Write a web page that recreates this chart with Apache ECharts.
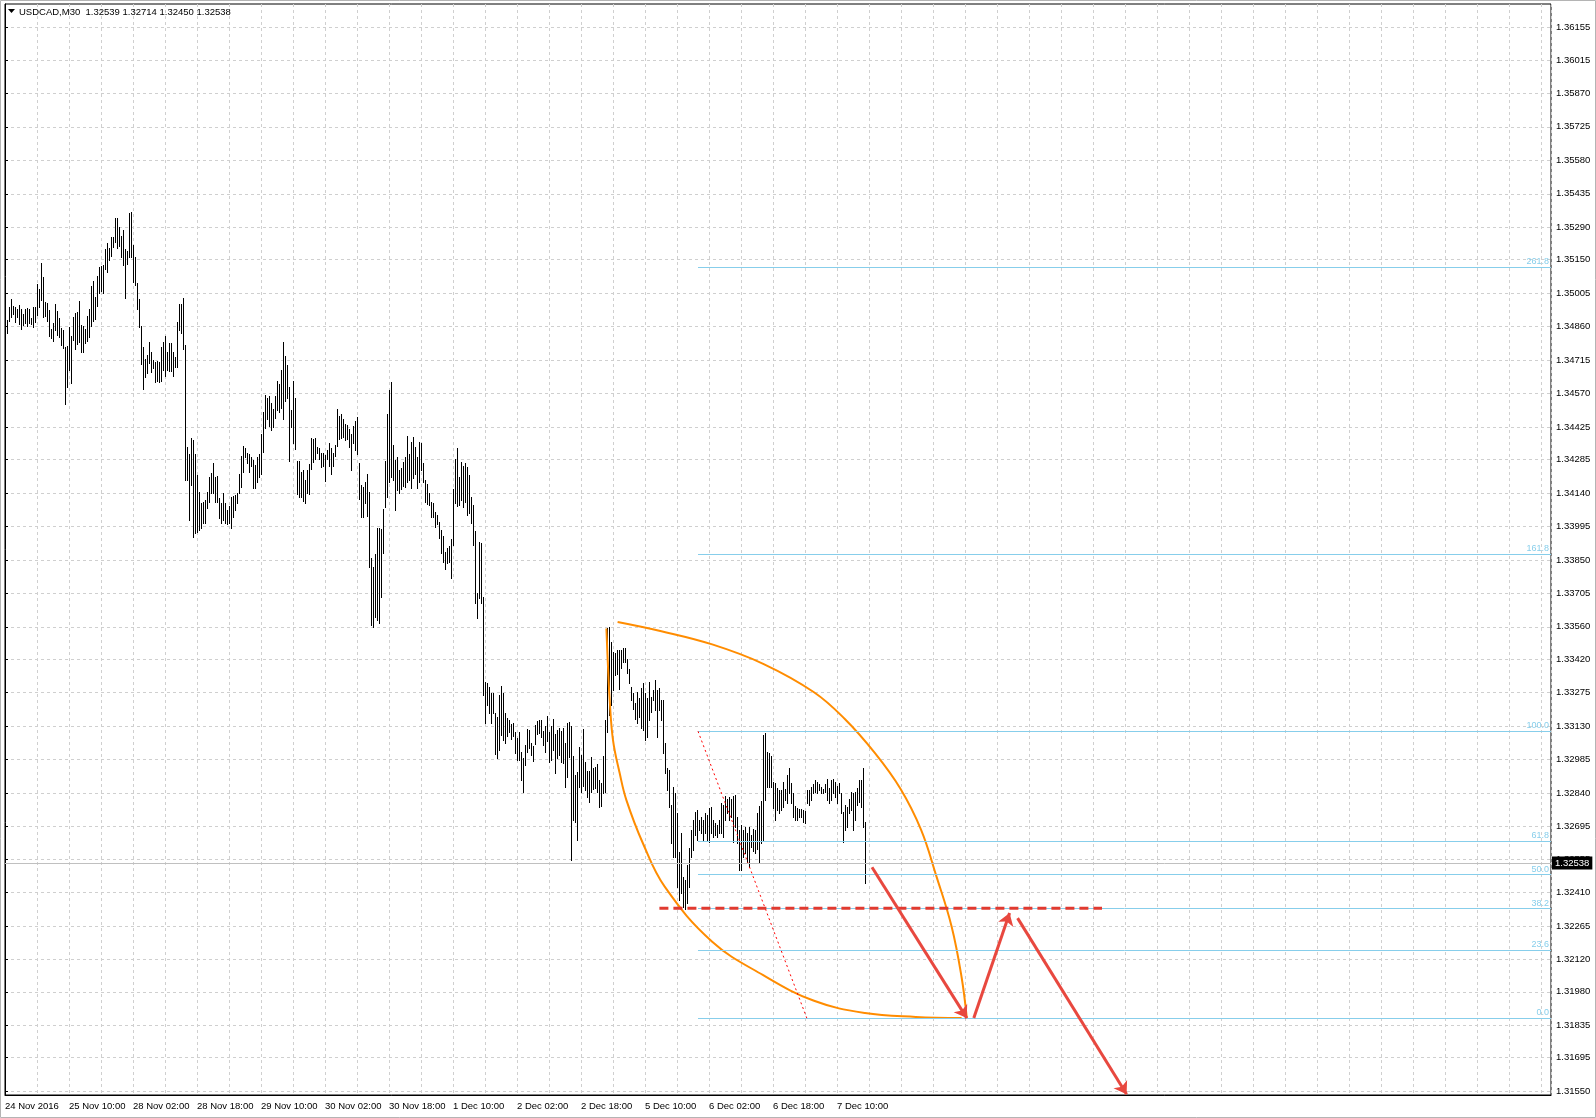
<!DOCTYPE html>
<html><head><meta charset="utf-8">
<script src="https://cdn.jsdelivr.net/npm/echarts@6/dist/echarts.min.js"></script>
<style>html,body{margin:0;padding:0;background:#fff;}#c{width:1596px;height:1118px;}</style>
</head><body><div id="c"></div>
<script>
const symbolName = 'USDCAD,M30';
const lastOHLC = [1.32539, 1.32714, 1.32450, 1.32538];
const timeLabels = ['24 Nov 2016','25 Nov 10:00','28 Nov 02:00','28 Nov 18:00','29 Nov 10:00','30 Nov 02:00','30 Nov 18:00','1 Dec 10:00','2 Dec 02:00','2 Dec 18:00','5 Dec 10:00','6 Dec 02:00','6 Dec 18:00','7 Dec 10:00'];
const priceTicks = [1.36155,1.36015,1.35870,1.35725,1.35580,1.35435,1.35290,1.35150,1.35005,1.34860,1.34715,1.34570,1.34425,1.34285,1.34140,1.33995,1.33850,1.33705,1.33560,1.33420,1.33275,1.33130,1.32985,1.32840,1.32695,1.32555,1.32410,1.32265,1.32120,1.31980,1.31835,1.31695,1.31550];

const highs = [
1.34910,1.34889,1.34943,1.34978,1.34949,1.34943,1.34935,1.34952,1.34935,1.34915,
1.34935,1.34939,1.34935,1.34896,1.34943,1.34943,1.35044,1.35021,1.35137,1.35073,
1.34966,1.34964,1.34932,1.34848,1.34877,1.34958,1.34929,1.34896,1.34852,1.34845,
1.34773,1.34776,1.34857,1.34819,1.34903,1.34920,1.34925,1.34972,1.34867,1.34863,
1.34848,1.34906,1.34935,1.35036,1.35059,1.34990,1.35079,1.35119,1.35122,1.35125,
1.35194,1.35220,1.35199,1.35246,1.35249,1.35329,1.35329,1.35293,1.35252,1.35278,
1.35194,1.35189,1.35353,1.35357,1.35213,1.35160,1.35047,1.34978,1.34863,1.34773,
1.34718,1.34737,1.34795,1.34751,1.34715,1.34708,1.34712,1.34708,1.34773,1.34795,
1.34819,1.34751,1.34788,1.34788,1.34751,1.34727,1.34881,1.34958,1.34958,1.34982,
1.34780,1.34340,1.34308,1.34376,1.34369,1.34308,1.34218,1.34145,1.34098,1.34102,
1.34109,1.34145,1.34208,1.34225,1.34271,1.34210,
1.34213,1.34116,1.34098,1.34141,1.34095,1.34066,1.34083,1.34121,1.34126,1.34131,
1.34138,1.34224,1.34300,1.34343,1.34333,1.34314,1.34308,1.34297,1.34282,1.34261,
1.34294,1.34308,1.34395,1.34491,1.34564,1.34553,1.34559,1.34528,1.34502,1.34559,
1.34626,1.34611,1.34672,1.34793,1.34732,1.34693,1.34600,1.34499,1.34626,1.34549,
1.34279,1.34279,1.34232,1.34239,1.34198,1.34239,1.34265,1.34376,1.34372,1.34376,
1.34337,1.34333,1.34311,1.34311,1.34304,1.34326,1.34354,1.34333,1.34314,1.34347,
1.34502,1.34473,1.34481,1.34458,1.34438,1.34434,1.34415,1.34395,1.34429,1.34452,
1.34467,1.34268,1.34174,1.34167,1.34188,1.34224,1.34145,1.33860,1.33818,1.33875,
1.33986,1.33986,1.33982,1.34069,1.34279,1.34481,1.34585,1.34621,1.34347,1.34282,
1.34297,1.34239,1.34250,1.34275,1.34294,1.34386,1.34308,1.34362,1.34380,1.34340,
1.34294,1.34362,1.34354,1.34268,1.34198,1.34178,1.34138,1.34102,
1.34095,1.34058,1.34044,1.34015,1.33979,1.33953,1.33885,1.33900,1.33910,1.33939,
1.34155,1.34285,1.34333,1.34210,1.34275,1.34256,1.34271,1.34253,1.34217,1.34123,
1.34087,1.33976,1.33705,1.33929,1.33921,1.33691,1.33323,1.33318,1.33301,1.33272,
1.33272,1.33188,1.33171,1.33265,1.33304,1.33272,1.33188,1.33164,1.33157,1.33139,
1.33142,1.33106,1.33077,1.33106,1.33019,1.32991,1.33048,1.33116,1.33113,1.33056,
1.33044,1.33135,1.33154,1.33157,1.33157,1.33110,1.33131,1.33174,1.33106,1.33131,
1.33159,1.33096,1.33113,1.33121,1.33110,1.33121,1.33056,1.33142,1.33149,1.33131,
1.33001,1.32919,1.32933,1.33041,1.33005,1.33116,1.32976,1.32937,1.32937,1.32995,
1.32947,1.32955,1.32966,1.32897,1.32885,1.33001,1.33157,1.33553,1.33558,1.33496,
1.33452,1.33445,1.33462,1.33460,1.33462,1.33467,1.33467,1.33419,1.33376,1.33301,
1.33272,1.33229,1.33279,1.33250,1.33294,1.33315,1.33272,
1.33250,1.33322,1.33258,1.33286,1.33330,1.33286,1.33294,1.33243,1.33243,
1.33056,1.32947,1.32940,1.32789,1.32868,1.32839,1.32752,1.32587,1.32666,1.32478,
1.32464,1.32529,1.32601,1.32680,1.32724,1.32760,1.32767,1.32724,1.32738,1.32724,
1.32752,1.32745,1.32774,1.32781,1.32724,1.32709,1.32702,1.32724,1.32796,1.32789,
1.32828,1.32813,1.32825,1.32813,1.32828,1.32832,1.32738,1.32680,1.32702,1.32680,
1.32692,1.32666,1.32695,1.32659,1.32683,1.32680,1.32752,1.32784,1.32807,1.33092,
1.33099,1.33019,1.33012,1.33001,1.32890,1.32882,1.32861,1.32853,1.32853,1.32890,
1.32856,1.32918,1.32947,1.32882,1.32839,1.32784,1.32774,1.32770,1.32770,1.32767,
1.32764,1.32853,1.32853,1.32865,1.32879,1.32897,1.32890,1.32879,1.32865,1.32856,
1.32879,1.32900,1.32861,1.32897,1.32900,1.32890,1.32871,1.32885,1.32839,1.32760,
1.32789,1.32781,1.32813,1.32846,1.32842,1.32846,1.32861,1.32897,1.32897,1.32947,
1.32714];

const lows = [
1.34816,1.34831,1.34886,1.34900,1.34915,1.34881,1.34903,1.34871,1.34848,1.34867,
1.34877,1.34863,1.34874,1.34871,1.34860,1.34881,1.34910,1.34943,1.34975,1.34900,
1.34906,1.34886,1.34819,1.34809,1.34799,1.34845,1.34824,1.34816,1.34780,1.34766,
1.34525,1.34597,1.34672,1.34614,1.34802,1.34762,1.34785,1.34795,1.34751,1.34751,
1.34790,1.34799,1.34813,1.34863,1.34886,1.34891,1.34949,1.35007,1.35016,1.35004,
1.35108,1.35098,1.35148,1.35166,1.35203,1.35228,1.35199,1.35209,1.35163,1.35127,
1.34982,1.35131,1.35163,1.35160,1.35054,1.35040,1.34935,1.34860,1.34698,1.34588,
1.34640,1.34661,1.34701,1.34665,1.34679,1.34622,1.34626,1.34622,1.34626,1.34672,
1.34646,1.34672,1.34669,1.34669,1.34646,1.34686,1.34686,1.34845,1.34834,1.34762,
1.34196,1.34196,1.34023,1.34174,1.33951,1.33965,1.33972,1.33979,1.33987,1.34008,
1.34011,1.34073,1.34102,1.34138,1.34138,1.34102,
1.34102,1.34030,1.34008,1.34022,1.34008,1.34005,1.34008,1.33986,1.34037,1.34066,
1.34095,1.34138,1.34167,1.34232,1.34297,1.34271,1.34232,1.34256,1.34160,1.34160,
1.34188,1.34210,1.34222,1.34318,1.34419,1.34458,1.34429,1.34412,1.34427,1.34463,
1.34499,1.34491,1.34506,1.34458,1.34539,1.34549,1.34279,1.34427,1.34354,1.34328,
1.34135,1.34124,1.34124,1.34106,1.34098,1.34138,1.34135,1.34242,1.34275,1.34289,
1.34311,1.34289,1.34253,1.34256,1.34193,1.34285,1.34256,1.34222,1.34256,1.34300,
1.34343,1.34372,1.34376,1.34380,1.34369,1.34372,1.34337,1.34239,1.34357,1.34326,
1.34308,1.34112,1.34034,1.34037,1.34095,1.34040,1.33818,1.33568,1.33558,1.33601,
1.33590,1.33575,1.33691,1.33881,1.34080,1.34124,1.34188,1.34210,1.34198,1.34066,
1.34152,1.34141,1.34155,1.34170,1.34164,1.34188,1.34196,1.34160,1.34203,1.34224,
1.34160,1.34188,1.34239,1.34188,1.34102,1.34092,1.34087,1.34037,
1.34034,1.33994,1.34005,1.33943,1.33878,1.33842,1.33809,1.33838,1.33842,1.33770,
1.33914,1.34097,1.34083,1.34087,1.34109,1.34080,1.34102,1.34044,1.34051,1.34011,
1.33914,1.33662,1.33597,1.33683,1.33662,1.33265,1.33142,1.33222,1.33185,1.33145,
1.33185,1.33009,1.32991,1.33027,1.33092,1.33070,1.33056,1.33087,1.33106,1.33073,
1.33087,1.33012,1.32983,1.32983,1.32897,1.32846,1.32962,1.33019,1.33034,1.33005,
1.32981,1.33053,1.33096,1.33102,1.33084,1.33048,1.33019,1.33067,1.32976,1.32983,
1.33027,1.32926,1.32991,1.33005,1.32976,1.32969,1.32865,1.32911,1.32998,1.32551,
1.32724,1.32717,1.32637,1.32868,1.32846,1.32871,1.32853,1.32825,1.32803,1.32846,
1.32856,1.32861,1.32846,1.32781,1.32784,1.32839,1.32846,1.33106,1.33178,1.33222,
1.33287,1.33351,1.33356,1.33289,1.33380,1.33409,1.33409,1.33359,1.33315,1.33243,
1.33203,1.33159,1.33142,1.33171,1.33121,1.33113,1.33070,
1.33084,1.33157,1.33193,1.33243,1.33200,1.33084,1.33200,1.33157,1.33012,
1.32926,1.32853,1.32781,1.32623,1.32565,1.32565,1.32435,1.32377,1.32406,1.32348,
1.32338,1.32363,1.32435,1.32565,1.32594,1.32659,1.32637,1.32680,1.32666,1.32637,
1.32666,1.32637,1.32630,1.32666,1.32649,1.32659,1.32651,1.32666,1.32666,1.32651,
1.32724,1.32752,1.32724,1.32738,1.32630,1.32695,1.32623,1.32507,1.32507,1.32565,
1.32579,1.32536,1.32522,1.32608,1.32591,1.32579,1.32597,1.32543,1.32623,1.32637,
1.32810,1.32868,1.32868,1.32868,1.32774,1.32724,1.32767,1.32752,1.32767,1.32781,
1.32810,1.32796,1.32839,1.32796,1.32738,1.32724,1.32724,1.32738,1.32738,1.32716,
1.32712,1.32796,1.32789,1.32810,1.32839,1.32846,1.32839,1.32853,1.32839,1.32842,
1.32846,1.32810,1.32796,1.32810,1.32842,1.32825,1.32796,1.32839,1.32752,1.32630,
1.32680,1.32695,1.32752,1.32767,1.32680,1.32724,1.32789,1.32803,1.32781,1.32695,
1.32450];

// Fibonacci retracement anchors (bar index, price)
const fibStart = [346.5, 1.33108];
const fibEnd = [400.9, 1.31866];
const fibLevels = [261.8, 161.8, 100.0, 61.8, 50.0, 38.2, 23.6, 0.0];

// Hand-drawn annotations in (bar index, price)
const outerArc = [[306.3,1.33581],[328.2,1.33541],[353.6,1.33484],[379.1,1.33400],[404.5,1.33277],[419.8,1.33162],[435.0,1.33013],[447.8,1.32858],[458.0,1.32682],[465.6,1.32483],[473.3,1.32263],[478.3,1.32043],[480.9,1.31866]];
const innerArc = [[300.7,1.33553],[301.5,1.33387],[302.35,1.33243],[304.0,1.33070],[307.35,1.32926],[310.7,1.32810],[319.0,1.32622],[329.85,1.32435],[353.6,1.32197],[379.1,1.32052],[404.5,1.31941],[430.0,1.31888],[455.4,1.31871],[478.3,1.31866]];
const supportLine = [[327.2,1.32342],[548.5,1.32342]];
const arrows = [
  [[433.5,1.32519],[480.9,1.31866]],
  [[484.4,1.31866],[502.3,1.32321]],
  [[506.3,1.32299],[560.8,1.31536]]
];

const X_MAX = 773;
const Y_MIN = 1.31533, Y_MAX = 1.36257;
const FONT = 'Liberation Sans';

const chart = echarts.init(document.getElementById('c'), null, {renderer:'canvas'});
const bars = highs.map((h,i)=>[i,h,lows[i]]);
const fibColor = '#87CEEB';
const fibLines = fibLevels.map(l=>{
  const p = fibEnd[1] + (fibStart[1]-fibEnd[1])*l/100;
  return [
    {coord:[fibStart[0], p], label:{formatter: l.toFixed(1)}},
    {coord:[X_MAX, p]}
  ];
});
const lastClose = lastOHLC[3];

const option = {
  animation:false,
  backgroundColor:'#fff',
  grid:{left:5,right:45,top:4,bottom:23,show:true,borderColor:'#000',borderWidth:1,backgroundColor:'#fff'},
  xAxis:{type:'value',min:0,max:X_MAX,interval:16,
    axisLine:{show:true,onZero:false,lineStyle:{color:'#000',width:1}},
    axisTick:{show:false},
    axisLabel:{show:true,align:'left',margin:6,color:'#000',fontFamily:FONT,fontSize:9.5,
      formatter:v=>{ if(v%32!==0) return ''; const k=v/32; return k<timeLabels.length?timeLabels[k]:''; }},
    splitLine:{show:true,lineStyle:{color:'#cfcfcf',type:[3,3],width:1}}
  },
  yAxis:{type:'value',position:'right',min:Y_MIN,max:Y_MAX,scale:true,
    axisLine:{show:true,lineStyle:{color:'#000',width:1}},
    axisTick:{show:true,length:3,lineStyle:{color:'#000'},customValues:priceTicks},
    axisLabel:{show:true,margin:5,color:'#000',fontFamily:FONT,fontSize:9.5,customValues:priceTicks,formatter:v=>v.toFixed(5)},
    splitLine:{show:true,lineStyle:{color:'#cfcfcf',type:[3,3],width:1}}
  },
  graphic:[
    {type:'rect',shape:{x:0.5,y:0.5,width:1595,height:1117},style:{fill:null,stroke:'#b4b4b4',lineWidth:1},z:-1,silent:true},
    {type:'polygon',shape:{points:[[8,9],[15,9],[11.5,13]]},style:{fill:'#000'},z:100},
    {type:'text',x:19,y:12,style:{text:symbolName+'  '+lastOHLC.map(v=>v.toFixed(5)).join(' '),fill:'#000',font:'9.5px "Liberation Sans"',verticalAlign:'middle'},z:100}
  ],
  series:[
    {type:'custom',name:'bars',data:bars,encode:{x:0,y:[1,2]},clip:true,z:3,
      renderItem:function(params,api){
        const i=api.value(0);
        const a=api.coord([i,api.value(1)]);
        const b=api.coord([i,api.value(2)]);
        const x=Math.round(a[0])+0.5;
        return {type:'line',shape:{x1:x,y1:Math.round(a[1]),x2:x,y2:Math.round(b[1])+1},style:{stroke:'#000',lineWidth:1}};
      }
    },
    {type:'line',name:'price',data:[],z:2,
      markLine:{silent:true,symbol:['none','none'],z:10,
        lineStyle:{color:'#c0c0c0',type:'solid',width:1},
        label:{show:true,position:'end',distance:1,formatter:()=>lastClose.toFixed(5),backgroundColor:'#000',color:'#fff',padding:[2,3,1,3],fontFamily:FONT,fontSize:9.5},
        data:[[{coord:[0,lastClose]},{coord:[X_MAX,lastClose]}]]
      }
    },
    {type:'line',name:'fib',data:[],z:2,
      markLine:{silent:true,symbol:['none','none'],
        lineStyle:{color:fibColor,type:'solid',width:1},
        label:{show:true,position:'insideEndTop',distance:[2,1],color:fibColor,fontFamily:FONT,fontSize:9},
        data:fibLines.concat([[{coord:fibStart,lineStyle:{color:'#ff0000',type:[2,3],width:1},label:{show:false}},{coord:fibEnd}]])
      }
    },
    {type:'line',name:'outer',data:outerArc,smooth:0.4,showSymbol:false,lineStyle:{color:'#FF8C00',width:2},z:4},
    {type:'line',name:'inner',data:innerArc,smooth:0.4,showSymbol:false,lineStyle:{color:'#FF8C00',width:2},z:4},
    {type:'line',name:'support',data:supportLine,showSymbol:false,lineStyle:{color:'#e03a30',width:3,type:[9,5]},z:5},
    {type:'lines',coordinateSystem:'cartesian2d',data:arrows.map(a=>({coords:a})),symbol:['none','arrow'],symbolSize:12,
      lineStyle:{color:'#e8483f',width:3,opacity:1,curveness:0},z:6}
  ]
};
chart.setOption(option);
</script>
</body></html>
